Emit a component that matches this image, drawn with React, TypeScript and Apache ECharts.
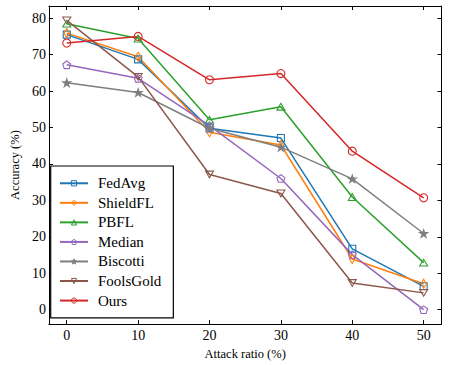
import React, { useEffect, useRef } from "react";
import * as echarts from "echarts";

const attackRatios = [0, 10, 20, 30, 40, 50];
const fedAvg = [75.5, 68.7, 49.8, 47.1, 16.7, 6.4];
const shieldFL = [75.9, 69.4, 48.7, 45.2, 13.9, 7.1];
const pbfl = [78.5, 74.4, 52.1, 55.7, 30.9, 12.9];
const median = [67.2, 63.5, 50.5, 36.0, 15.1, 0.0];
const biscotti = [62.3, 59.6, 49.8, 44.6, 35.9, 20.9];
const foolsGold = [79.4, 63.9, 37.1, 31.9, 7.3, 4.6];
const ours = [73.2, 75.0, 63.1, 64.8, 43.5, 30.7];

const xTicks = [0, 10, 20, 30, 40, 50];
const yTicks = [0, 10, 20, 30, 40, 50, 60, 70, 80];

const FONT = "Liberation Serif";

const PENTAGON = "path://M0,-1 L0.951,-0.309 L0.588,0.809 L-0.588,0.809 L-0.951,-0.309 Z";
const TRI_DOWN = "path://M-1,-0.85 L1,-0.85 L0,0.85 Z";
const TRI_UP = "path://M-1,0.85 L1,0.85 L0,-0.85 Z";
const STAR =
  "path://M0,-1 L0.2245,-0.309 L0.951,-0.309 L0.363,0.118 L0.588,0.809 L0,0.382 L-0.588,0.809 L-0.363,0.118 L-0.951,-0.309 L-0.2245,-0.309 Z";
const THIN_DIAMOND = "path://M0,-1 L0.6,0 L0,1 L-0.6,0 Z";
const SQUARE = "path://M-1,-1 L1,-1 L1,1 L-1,1 Z";
const CIRCLE = "circle";

const seriesDefs = [
  { name: "FedAvg", values: fedAvg, color: "#1f77b4", symbol: SQUARE, size: 7, filled: false },
  { name: "ShieldFL", values: shieldFL, color: "#ff7f0e", symbol: THIN_DIAMOND, size: 9, filled: false },
  { name: "PBFL", values: pbfl, color: "#2ca02c", symbol: TRI_UP, size: 8, filled: false },
  { name: "Median", values: median, color: "#9467bd", symbol: PENTAGON, size: 8, filled: false },
  { name: "Biscotti", values: biscotti, color: "#7f7f7f", symbol: STAR, size: 8, filled: true },
  { name: "FoolsGold", values: foolsGold, color: "#8c564b", symbol: TRI_DOWN, size: 8, filled: false },
  { name: "Ours", values: ours, color: "#d62728", symbol: CIRCLE, size: 8, filled: false },
];

export default function App() {
  const ref = useRef<HTMLDivElement>(null);
  useEffect(() => {
    if (!ref.current) return;
    const chart = echarts.init(ref.current, undefined, { renderer: "svg" });
    const axisCommon = {
      type: "value" as const,
      splitLine: { show: false },
      axisLine: { show: true, onZero: false, lineStyle: { color: "#000", width: 1 } },
    };
    chart.setOption({
      animation: false,
      backgroundColor: "#fff",
      textStyle: { fontFamily: FONT },
      grid: { left: 39.5, top: 6, right: 7.5, bottom: 39.5, containLabel: false },
      xAxis: [
        {
          ...axisCommon,
          min: -2.5,
          max: 52.5,
          position: "bottom",
          axisTick: { show: true, inside: true, length: 4, customValues: xTicks, lineStyle: { color: "#000" } },
          axisLabel: { show: true, customValues: xTicks, margin: 4, fontSize: 14, color: "#000", fontFamily: FONT },
          name: "Attack ratio (%)",
          nameLocation: "middle",
          nameGap: 21,
          nameTextStyle: { fontSize: 12.5, color: "#000", fontFamily: FONT },
        },
        {
          ...axisCommon,
          min: -2.5,
          max: 52.5,
          position: "top",
          axisTick: { show: true, inside: true, length: 4, customValues: xTicks, lineStyle: { color: "#000" } },
          axisLabel: { show: false },
        },
      ],
      yAxis: [
        {
          ...axisCommon,
          min: -3.97,
          max: 83.35,
          position: "left",
          axisTick: { show: true, inside: true, length: 4, customValues: yTicks, lineStyle: { color: "#000" } },
          axisLabel: { show: true, customValues: yTicks, margin: 3, fontSize: 14, color: "#000", fontFamily: FONT },
          name: "Accuracy (%)",
          nameLocation: "middle",
          nameGap: 23,
          nameTextStyle: { fontSize: 12.5, color: "#000", fontFamily: FONT },
        },
        {
          ...axisCommon,
          min: -3.97,
          max: 83.35,
          position: "right",
          axisTick: { show: true, inside: true, length: 4, customValues: yTicks, lineStyle: { color: "#000" } },
          axisLabel: { show: false },
        },
      ],
      legend: {
        orient: "vertical",
        left: 50.7,
        top: 166,
        padding: [7.5, 12, 7.5, 8.3],
        itemWidth: 28,
        itemHeight: 6.5,
        itemGap: 0,
        borderColor: "#000",
        borderWidth: 1.2,
        borderRadius: 0,
        backgroundColor: "#fff",
        textStyle: { fontSize: 15, lineHeight: 19.55, color: "#000", fontFamily: FONT, padding: [0, 0, 0, 5] },
        data: seriesDefs.map((s) => ({
          name: s.name,
          itemStyle: {
            color: s.filled ? s.color : "rgba(255,255,255,0)",
            borderColor: s.color,
            borderWidth: 1,
          },
        })),
      },
      series: seriesDefs.map((s) => ({
        name: s.name,
        type: "line",
        xAxisIndex: 0,
        yAxisIndex: 0,
        data: attackRatios.map((x, i) => [x, s.values[i]]),
        symbol: s.symbol,
        symbolSize: s.size,
        symbolKeepAspect: true,
        showAllSymbol: true,
        lineStyle: { color: s.color, width: 1.5 },
        itemStyle: {
          color: s.filled ? s.color : "rgba(255,255,255,0)",
          borderColor: s.color,
          borderWidth: 1.1,
        },
        emphasis: { disabled: true },
      })),
    });
    return () => chart.dispose();
  }, []);
  return (
    <div
      ref={ref}
      style={{ position: "fixed", left: 0, top: 0, width: 449, height: 365 }}
    />
  );
}
